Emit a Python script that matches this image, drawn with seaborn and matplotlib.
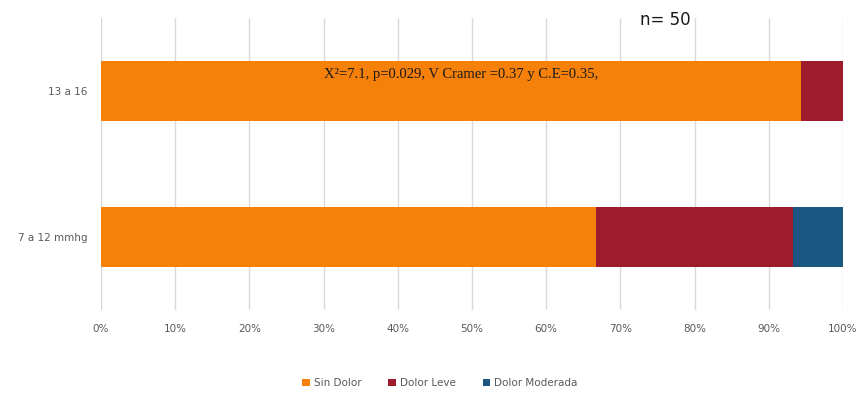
import matplotlib
matplotlib.use("Agg")
import matplotlib.pyplot as plt
import seaborn as sns
import pandas as pd
import numpy as np
from matplotlib.patches import Patch

categories = ["13 a 16", "7 a 12 mmhg"]
sin_dolor = [94.4, 66.7]
dolor_leve = [5.6, 26.6]
dolor_moderada = [0.0, 6.7]
series_names = ["Sin Dolor", "Dolor Leve", "Dolor Moderada"]
colors = ["#F5800A", "#9C1C2C", "#1B5680"]
xticks = list(range(0, 101, 10))
xticklabels = [f"{t}%" for t in xticks]

sns.set_theme(style="white")
plt.rcParams['font.family'] = ['DejaVu Sans']

df = pd.DataFrame({
    "cat": categories,
    "s1": np.array(sin_dolor),
    "s2": np.array(sin_dolor) + np.array(dolor_leve),
    "s3": np.array(sin_dolor) + np.array(dolor_leve) + np.array(dolor_moderada),
})

fig = plt.figure(figsize=(8.6, 3.93), dpi=100)
ax = fig.add_axes([101/860, 1-310/393, 742/860, 292/393])

for col, c in zip(["s3", "s2", "s1"], colors[::-1]):
    sns.barplot(data=df, y="cat", x=col, order=categories, color=c, width=0.41,
                orient="h", ax=ax, saturation=1, edgecolor="none", zorder=2)

ax.set_xlim(0, 100)
ax.set_ylim(1.5, -0.5)
ax.set_xticks(xticks)
ax.set_xticklabels(xticklabels, fontsize=7.5, color="#595959")
ax.tick_params(axis="y", labelsize=7.5, labelcolor="#595959", length=0, pad=10)
ax.tick_params(axis="x", length=0, pad=10)
ax.set_xlabel("")
ax.set_ylabel("")
for s in ax.spines.values():
    s.set_visible(False)
ax.grid(axis="x", color="#D9D9D9", linewidth=1, zorder=0)
ax.set_axisbelow(True)

ax.text(48.6, -0.116, "X²=7.1, p=0.029, V Cramer =0.37 y C.E=0.35,",
        family="Liberation Serif", fontsize=10.5, ha="center", va="center", color="#1a1a1a", zorder=5)
fig.text(665/860, 1-20/393, "n= 50", fontsize=12, ha="center", va="center", color="#1a1a1a")

handles = [Patch(facecolor=c, edgecolor="none") for c in colors]
fig.legend(handles, series_names, loc="center", bbox_to_anchor=(440/860, 1-383/393),
           ncol=3, frameon=False, fontsize=7.5, handlelength=0.7, handleheight=0.7,
           handletextpad=0.4, columnspacing=2.6, labelcolor="#595959")

fig.savefig("out.png", dpi=100)
